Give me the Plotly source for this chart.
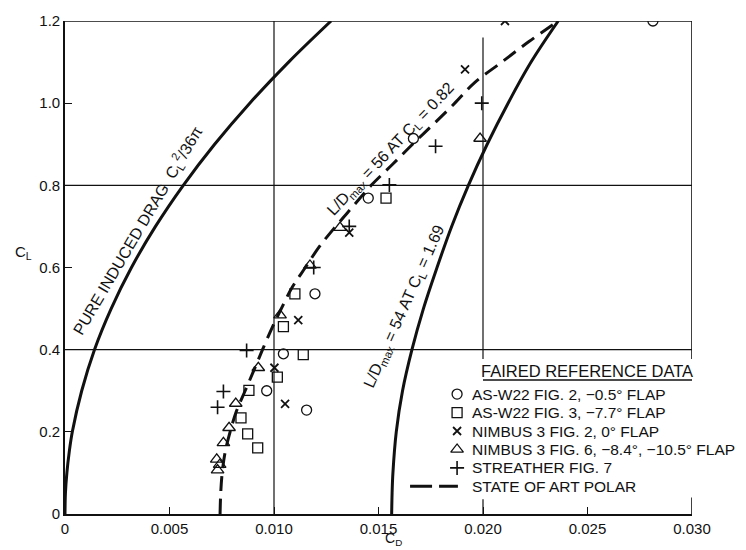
import plotly.graph_objects as go

# ---------------- data ----------------
# Pure induced drag curve  C_L^2 / 36*pi
induced_cl = [0, 0.05, 0.1, 0.15, 0.2, 0.3, 0.4, 0.5, 0.6, 0.7, 0.8, 0.9, 1.0, 1.1, 1.2]
induced_cd = [0, 0.00002, 0.00009, 0.0002, 0.00035, 0.0008, 0.00141, 0.00221, 0.00318,
              0.00433, 0.00566, 0.00716, 0.00884, 0.0107, 0.01273]

# State of art polar (dashed)
polar_cl = [0, 0.05, 0.1, 0.15, 0.2, 0.25, 0.3, 0.35, 0.4, 0.45, 0.5, 0.55, 0.6, 0.65,
            0.7, 0.75, 0.8, 0.85, 0.9, 0.95, 1.0, 1.05, 1.1, 1.15, 1.2]
polar_cd = [0.00742, 0.00745, 0.00752, 0.00766, 0.0079, 0.0082, 0.00862, 0.00904, 0.00945,
            0.00988, 0.01035, 0.01085, 0.0115, 0.01216, 0.01295, 0.0138, 0.01465, 0.01565,
            0.01663, 0.01765, 0.01865, 0.0196, 0.0209, 0.0222, 0.0236]

# L/Dmax = 54 polar (solid, right)
right_cl = [0, 0.05, 0.1, 0.2, 0.3, 0.4, 0.5, 0.6, 0.7, 0.8, 0.9, 1.0, 1.1, 1.2]
right_cd = [0.01563, 0.01565, 0.01569, 0.01585, 0.01615, 0.0166, 0.01715, 0.0178, 0.0185,
            0.0193, 0.0202, 0.0212, 0.0223, 0.0236]

# Faired reference data
asw22_f2_cd = [0.01196, 0.01045, 0.00965, 0.01156, 0.01451, 0.01667, 0.02813]
asw22_f2_cl = [0.536, 0.39, 0.30, 0.253, 0.769, 0.914, 1.2]

asw22_f3_cd = [0.01536, 0.0110, 0.01045, 0.0114, 0.01016, 0.0088, 0.00842, 0.00874, 0.00922]
asw22_f3_cl = [0.769, 0.536, 0.456, 0.388, 0.333, 0.301, 0.234, 0.195, 0.161]

nimbus_f2_cd = [0.02105, 0.01914, 0.0136, 0.01116, 0.01002, 0.01053]
nimbus_f2_cl = [1.2, 1.082, 0.685, 0.472, 0.356, 0.268]

nimbus_f6_cd = [0.01986, 0.01316, 0.01172, 0.01029, 0.00925, 0.00817, 0.00785, 0.00758,
                0.00726, 0.0074, 0.0073]
nimbus_f6_cl = [0.914, 0.697, 0.605, 0.484, 0.356, 0.269, 0.21, 0.173, 0.133, 0.12, 0.107]

streather_cd = [0.01994, 0.01773, 0.01552, 0.0136, 0.0119, 0.00869, 0.00758, 0.0073]
streather_cl = [1.0, 0.895, 0.801, 0.70, 0.60, 0.398, 0.298, 0.26]

x_ticks = [0, 0.005, 0.010, 0.015, 0.020, 0.025, 0.030]
x_labels = ["0", "0.005", "0.010", "0.015", "0.020", "0.025", "0.030"]
y_ticks = [0, 0.2, 0.4, 0.6, 0.8, 1.0, 1.2]
y_labels = ["0", "0.2", "0.4", "0.6", "0.8", "1.0", "1.2"]

legend_names = ["AS-W22 FIG. 2, \u22120.5\u00b0 FLAP",
                "AS-W22 FIG. 3, \u22127.7\u00b0 FLAP",
                "NIMBUS 3 FIG. 2, 0\u00b0 FLAP",
                "NIMBUS 3 FIG. 6, \u22128.4\u00b0, \u221210.5\u00b0 FLAP",
                "STREATHER FIG. 7",
                "STATE OF ART POLAR"]

# ---------------- styling ----------------
INK = "#111111"
FONT = "Liberation Sans, Arial, Helvetica, sans-serif"
FS = 15

fig = go.Figure()

fig.add_trace(go.Scatter(x=induced_cd, y=induced_cl, mode="lines", line=dict(color=INK, width=3, shape="spline"),
                         showlegend=False, hoverinfo="skip"))
fig.add_trace(go.Scatter(x=right_cd, y=right_cl, mode="lines", line=dict(color=INK, width=3, shape="spline"),
                         showlegend=False, hoverinfo="skip"))
fig.add_trace(go.Scatter(x=polar_cd, y=polar_cl, mode="lines",
                         line=dict(color=INK, width=3, dash="15px,8px", shape="spline"),
                         name=legend_names[5], showlegend=False))

marker_specs = [
    (asw22_f2_cd, asw22_f2_cl, "circle-open", 10, 1.3),
    (asw22_f3_cd, asw22_f3_cl, "square-open", 10, 1.3),
    (nimbus_f2_cd, nimbus_f2_cl, "x-thin-open", 8, 1.8),
    (nimbus_f6_cd, nimbus_f6_cl, "triangle-up-open", 11, 1.3),
    (streather_cd, streather_cl, "cross-thin-open", 10, 1.6),
]
for i, (xs, ys, sym, sz, lw) in enumerate(marker_specs):
    fig.add_trace(go.Scatter(x=xs, y=ys, mode="markers", name=legend_names[i],
                             marker=dict(symbol=sym, size=sz, color=INK, line=dict(color=INK, width=lw)),
                             showlegend=False))

# ---------------- manual legend ----------------
KEY_X = 0.01876
TEXT_X = 0.01938
ROW0 = 0.2918
ROW_STEP = 0.0449
for i, (xs, ys, sym, sz, lw) in enumerate(marker_specs):
    fig.add_trace(go.Scatter(x=[KEY_X], y=[ROW0 - i * ROW_STEP], mode="markers",
                             marker=dict(symbol=sym, size=sz, color=INK, line=dict(color=INK, width=lw)),
                             showlegend=False, hoverinfo="skip"))
fig.add_trace(go.Scatter(x=[0.01651, 0.0188], y=[ROW0 - 5 * ROW_STEP] * 2, mode="lines",
                         line=dict(color=INK, width=3, dash="22px,7px"), showlegend=False, hoverinfo="skip"))

annotations = []
for i, nm in enumerate(legend_names):
    annotations.append(dict(x=TEXT_X, y=ROW0 - i * ROW_STEP, xref="x", yref="y", text=nm,
                            showarrow=False, xanchor="left", yanchor="middle",
                            font=dict(family=FONT, size=15.5, color=INK)))
annotations.append(dict(x=0.02498, y=0.348, xref="x", yref="y", text="FAIRED REFERENCE DATA",
                        showarrow=False, xanchor="center", yanchor="middle",
                        font=dict(family=FONT, size=16.5, color=INK)))

# curve labels
annotations.append(dict(x=0.00345, y=0.69, xref="x", yref="y",
                        text="PURE INDUCED DRAG  C<sub>L</sub><sup>2</sup>/36\u03c0",
                        textangle=-59.5, showarrow=False, font=dict(family=FONT, size=16, color=INK)))
annotations.append(dict(x=0.0156, y=0.887, xref="x", yref="y",
                        text="L/D<sub>max</sub> = 56 AT C<sub>L</sub> = 0.82",
                        textangle=-46.5, showarrow=False, font=dict(family=FONT, size=16, color=INK)))
annotations.append(dict(x=0.01627, y=0.504, xref="x", yref="y",
                        text="L/D<sub>max</sub> = 54 AT C<sub>L</sub> = 1.69",
                        textangle=-66, showarrow=False, font=dict(family=FONT, size=16, color=INK)))

# axis titles
annotations.append(dict(x=-0.083, y=0.53, xref="paper", yref="paper", text="C<sub>L</sub>",
                        showarrow=False, font=dict(family=FONT, size=FS, color=INK)))
annotations.append(dict(x=0.524, y=-0.0715, xref="paper", yref="paper", text="C<sub>D</sub>",
                        showarrow=False, yanchor="bottom", borderpad=0,
                        font=dict(family=FONT, size=14, color=INK)))

# ---------------- grid / frame shapes ----------------
def seg(x0, y0, x1, y1, w=1.2):
    return dict(type="line", xref="x", yref="y", x0=x0, y0=y0, x1=x1, y1=y1,
                line=dict(color=INK, width=w), layer="below")

shapes = [
    seg(0.010, 0, 0.010, 1.2),
    seg(0.020, 0.377, 0.020, 1.16),
    seg(0, 0.4, 0.030, 0.4),
    seg(0, 0.8, 0.030, 0.8),
    seg(0, 1.2, 0.030, 1.2, 1.6),
    seg(0.030, 0.377, 0.030, 1.2, 1.6),
    seg(0.030, 0, 0.030, 0.04, 1.6),
    seg(0.020, 0, 0.020, 0.036, 1.2),
    seg(0.020, 0.326, 0.030, 0.326, 1.6),
]

fig.update_layout(
    width=746, height=550,
    margin=dict(l=65, r=54, t=16, b=36),
    paper_bgcolor="white", plot_bgcolor="white",
    showlegend=False,
    shapes=shapes,
    annotations=annotations,
    font=dict(family=FONT, size=FS, color=INK),
    xaxis=dict(range=[0, 0.030], tickvals=x_ticks, ticktext=x_labels, showgrid=False, zeroline=False,
               showline=True, linecolor=INK, linewidth=1.6, ticks="inside", ticklen=7, tickcolor=INK,
               tickwidth=1.2, ticklabelstandoff=0, tickfont=dict(family=FONT, size=FS, color=INK)),
    yaxis=dict(range=[0, 1.2], tickvals=y_ticks, ticktext=y_labels, showgrid=False, zeroline=False,
               showline=True, linecolor=INK, linewidth=1.6, ticks="inside", ticklen=7, tickcolor=INK,
               tickwidth=1.2, tickfont=dict(family=FONT, size=FS, color=INK)),
)

fig.write_html("out.html")
